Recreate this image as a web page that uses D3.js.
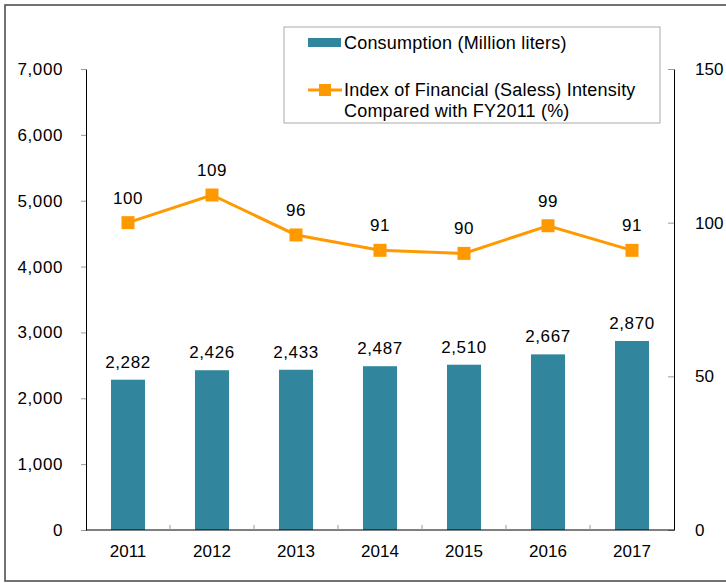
<!DOCTYPE html>
<html lang="en">
  <head>
    <meta charset="UTF-8" />
    <title>Consumption and Index of Financial Intensity</title>
    <style>
      body { margin: 0; background: #fff; }
      svg text {
        font-family: 'Liberation Sans', Arial, sans-serif;
        fill: #000;
      }
      .tick line { stroke: #999; }
      .domain { stroke: #000; }
    </style>
    <script src="https://d3js.org/d3.v7.min.js"></script>
  </head>
  <body>
    <svg width="726" height="583"></svg>
    <script>
      var years = ['2011', '2012', '2013', '2014', '2015', '2016', '2017']
      var consumption = [2282, 2426, 2433, 2487, 2510, 2667, 2870]
      var intensity = [100, 109, 96, 91, 90, 99, 91]
      var leftTicks = [0, 1000, 2000, 3000, 4000, 5000, 6000, 7000]
      var rightTicks = [0, 50, 100, 150]

      var barColor = '#31859c'
      var lineColor = '#ff9900'
      var plot = { left: 86, right: 674, top: 69, bottom: 530 }

      var svg = d3.select('svg')

      // outer frame
      svg.append('rect')
        .attr('x', 5).attr('y', 5)
        .attr('width', 740).attr('height', 576)
        .attr('fill', 'none')
        .attr('stroke', '#444')
        .attr('stroke-width', 1.5)

      var x = d3.scaleBand()
        .domain(years)
        .range([plot.left, plot.right])
        .paddingInner(0.595)
        .paddingOuter(0.2975)
      var xStep = d3.scaleBand().domain(years).range([plot.left, plot.right])

      var yLeft = d3.scaleLinear().domain([0, 7000]).range([plot.bottom, plot.top])
      var yRight = d3.scaleLinear().domain([0, 150]).range([plot.bottom, plot.top])

      // left axis
      var gl = svg.append('g')
        .attr('transform', 'translate(' + plot.left + ',0)')
        .call(d3.axisLeft(yLeft).tickValues(leftTicks).tickFormat(d3.format(',')).tickSizeInner(5).tickSizeOuter(0).tickPadding(18))
      gl.selectAll('text').attr('font-size', 17).attr('letter-spacing', 0.6)

      // right axis
      var gr = svg.append('g')
        .attr('transform', 'translate(' + plot.right + ',0)')
        .call(d3.axisRight(yRight).tickValues(rightTicks).tickSizeInner(0).tickSizeOuter(0).tickPadding(21))
      gr.selectAll('text').attr('font-size', 17)
      gr.selectAll('.tick line').attr('x2', -6)

      // bars
      svg.append('g')
        .selectAll('rect')
        .data(consumption)
        .join('rect')
        .attr('x', function(d, i) { return x(years[i]) })
        .attr('y', function(d) { return yLeft(d) })
        .attr('width', x.bandwidth())
        .attr('height', function(d) { return plot.bottom - yLeft(d) })
        .attr('fill', barColor)

      // bottom axis
      var gb = svg.append('g')
        .attr('transform', 'translate(0,' + plot.bottom + ')')
        .call(d3.axisBottom(xStep).tickSize(0).tickPadding(14))
      gb.selectAll('text').attr('font-size', 17).attr('dy', '0.75em')
      gb.select('.domain').attr('d', 'M' + plot.left + ',0H' + plot.right)
      gb.selectAll('.sep')
        .data(years.slice(1))
        .join('line')
        .attr('class', 'sep')
        .attr('x1', function(d) { return xStep(d) })
        .attr('x2', function(d) { return xStep(d) })
        .attr('y1', 0).attr('y2', -5)
        .attr('stroke', '#999')

      // bar labels
      svg.append('g')
        .selectAll('text')
        .data(consumption)
        .join('text')
        .attr('x', function(d, i) { return x(years[i]) + x.bandwidth() / 2 })
        .attr('y', function(d) { return yLeft(d) - 12 })
        .attr('text-anchor', 'middle')
        .attr('font-size', 17)
        .attr('letter-spacing', 0.6)
        .text(d3.format(','))

      // line
      var cx = function(d, i) { return xStep(years[i]) + xStep.bandwidth() / 2 }
      var line = d3.line().x(cx).y(function(d) { return yRight(d) })
      svg.append('path')
        .datum(intensity)
        .attr('d', line)
        .attr('fill', 'none')
        .attr('stroke', lineColor)
        .attr('stroke-width', 3)

      svg.append('g')
        .selectAll('rect')
        .data(intensity)
        .join('rect')
        .attr('x', function(d, i) { return cx(d, i) - 6.5 })
        .attr('y', function(d) { return yRight(d) - 6.5 })
        .attr('width', 13).attr('height', 13)
        .attr('fill', lineColor)

      svg.append('g')
        .selectAll('text')
        .data(intensity)
        .join('text')
        .attr('x', cx)
        .attr('y', function(d) { return yRight(d) - 19 })
        .attr('text-anchor', 'middle')
        .attr('font-size', 17)
        .attr('letter-spacing', 0.6)
        .text(function(d) { return d })

      // legend
      var lg = svg.append('g')
      lg.append('rect')
        .attr('x', 284).attr('y', 27)
        .attr('width', 376).attr('height', 96)
        .attr('fill', '#fff')
        .attr('stroke', '#aaa')
      lg.append('rect')
        .attr('x', 308).attr('y', 38)
        .attr('width', 33).attr('height', 9)
        .attr('fill', barColor)
      lg.append('text')
        .attr('x', 344).attr('y', 49)
        .attr('font-size', 18)
        .attr('letter-spacing', 0.2)
        .text('Consumption (Million liters)')
      lg.append('line')
        .attr('x1', 308).attr('x2', 342)
        .attr('y1', 90).attr('y2', 90)
        .attr('stroke', lineColor)
        .attr('stroke-width', 3)
      lg.append('rect')
        .attr('x', 319).attr('y', 84)
        .attr('width', 12).attr('height', 12)
        .attr('fill', lineColor)
      lg.append('text')
        .attr('x', 344).attr('y', 96)
        .attr('font-size', 18)
        .attr('letter-spacing', 0.2)
        .text('Index of Financial (Saless) Intensity')
      lg.append('text')
        .attr('x', 344).attr('y', 117)
        .attr('font-size', 18)
        .attr('letter-spacing', 0.2)
        .text('Compared with FY2011 (%)')
    </script>
  </body>
</html>
